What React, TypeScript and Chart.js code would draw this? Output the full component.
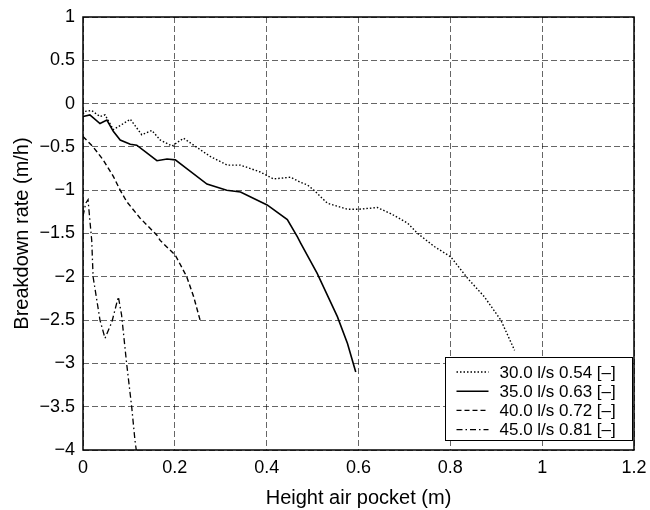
import React, { useEffect, useRef } from "react";
import { Chart, registerables } from "chart.js";

Chart.register(...registerables);

const seriesLabels = [
  "30.0 l/s 0.54 [\u2013]",
  "35.0 l/s 0.63 [\u2013]",
  "40.0 l/s 0.72 [\u2013]",
  "45.0 l/s 0.81 [\u2013]",
];

const s30x = [0, 0.004, 0.019, 0.037, 0.048, 0.066, 0.085, 0.103, 0.128, 0.15, 0.168, 0.194, 0.219, 0.241, 0.277, 0.314, 0.343, 0.386, 0.415, 0.452, 0.474, 0.489, 0.503, 0.532, 0.576, 0.601, 0.641, 0.67, 0.707, 0.729, 0.765, 0.801, 0.838, 0.874, 0.91, 0.94];
const s30y = [-0.12, -0.09, -0.08, -0.15, -0.13, -0.3, -0.24, -0.18, -0.36, -0.31, -0.42, -0.49, -0.4, -0.48, -0.61, -0.71, -0.71, -0.79, -0.87, -0.85, -0.91, -0.94, -1.0, -1.15, -1.22, -1.22, -1.2, -1.27, -1.38, -1.5, -1.65, -1.77, -2.02, -2.23, -2.5, -2.85];

const s35x = [0, 0.015, 0.037, 0.052, 0.066, 0.081, 0.103, 0.117, 0.139, 0.161, 0.183, 0.201, 0.226, 0.27, 0.313, 0.343, 0.401, 0.445, 0.467, 0.474, 0.51, 0.554, 0.576, 0.594];
const s35y = [-0.15, -0.13, -0.23, -0.19, -0.32, -0.42, -0.47, -0.48, -0.57, -0.66, -0.64, -0.65, -0.75, -0.93, -1.0, -1.02, -1.17, -1.34, -1.54, -1.61, -1.96, -2.46, -2.77, -3.1];

const s40x = [0, 0.022, 0.044, 0.066, 0.081, 0.095, 0.124, 0.161, 0.168, 0.201, 0.226, 0.241, 0.255];
const s40y = [-0.38, -0.5, -0.65, -0.84, -1.0, -1.13, -1.32, -1.52, -1.58, -1.75, -2.0, -2.23, -2.5];

const s45x = [0, 0.006, 0.011, 0.015, 0.019, 0.022, 0.037, 0.048, 0.063, 0.077, 0.084, 0.095, 0.106, 0.113, 0.116];
const s45y = [-1.3, -1.15, -1.11, -1.35, -1.58, -2.0, -2.5, -2.71, -2.52, -2.23, -2.44, -3.0, -3.5, -3.88, -4.0];

const xTickValues = [0, 0.2, 0.4, 0.6, 0.8, 1, 1.2];
const yTickValues = [1, 0.5, 0, -0.5, -1, -1.5, -2, -2.5, -3, -3.5, -4];

const dashes = [[1.5, 2], [], [5, 3], [6, 3, 1.5, 3]];
const widths = [1.4, 1.6, 1.4, 1.3];

const FONT = "'Liberation Sans', Arial, sans-serif";

function pts(xs: number[], ys: number[]) {
  return xs.map((x, i) => ({ x, y: ys[i] }));
}

const fmt = (v: number) => String(Number(v.toFixed(2))).replace("-", "\u2212");

export default function App() {
  const ref = useRef<HTMLCanvasElement | null>(null);
  useEffect(() => {
    if (!ref.current) return;
    const allData = [pts(s30x, s30y), pts(s35x, s35y), pts(s40x, s40y), pts(s45x, s45y)];
    const boxPlugin = {
      id: "boxLegend",
      afterDraw(chart: any) {
        const { ctx, chartArea } = chart;
        ctx.save();
        ctx.strokeStyle = "#000";
        ctx.lineWidth = 1.5;
        ctx.setLineDash([]);
        ctx.strokeRect(Math.round(chartArea.left), Math.round(chartArea.top), Math.round(chartArea.right - chartArea.left), Math.round(chartArea.bottom - chartArea.top));
        // legend
        ctx.lineWidth = 1;
        const w = 187, h = 83;
        const lx = Math.round(chartArea.right - 2 - w) + 0.5;
        const ly = Math.round(chartArea.bottom - 10 - h) + 0.5;
        ctx.fillStyle = "#fff";
        ctx.fillRect(lx, ly, w, h);
        ctx.strokeRect(lx, ly, w, h);
        ctx.font = "17px " + FONT;
        ctx.textBaseline = "middle";
        ctx.fillStyle = "#000";
        seriesLabels.forEach((lab, i) => {
          const yy = ly + 14.5 + i * 19.2;
          ctx.beginPath();
          ctx.setLineDash(dashes[i]);
          ctx.lineWidth = widths[i];
          ctx.moveTo(lx + 11, yy);
          ctx.lineTo(lx + 43, yy);
          ctx.stroke();
          ctx.setLineDash([]);
          ctx.fillText(lab, lx + 54, yy + 1);
        });
        ctx.restore();
      },
    };
    const gridOpts = { color: "rgba(0,0,0,0.6)", lineWidth: 1, tickLength: 0, drawTicks: false };
    const chart = new Chart(ref.current, {
      type: "line",
      data: {
        datasets: allData.map((d, i) => ({
          label: seriesLabels[i],
          data: d,
          borderColor: "#000",
          borderWidth: widths[i],
          borderDash: dashes[i],
          pointRadius: 0,
          tension: 0,
          fill: false,
        })),
      },
      options: {
        animation: false,
        responsive: false,
        maintainAspectRatio: false,
        layout: { padding: { left: 0, top: 17, right: 16, bottom: 0 } },
        plugins: { legend: { display: false }, tooltip: { enabled: false } },
        scales: {
          x: {
            type: "linear",
            min: 0,
            max: 1.2,
            afterBuildTicks: (s: any) => { s.ticks = xTickValues.map((v) => ({ value: v })); },
            afterFit: (s: any) => { s.height = 60; s.paddingLeft = 0; s.paddingRight = 0; },
            ticks: {
              callback: (v: any) => fmt(Number(v)),
              color: "#000",
              font: { size: 18, family: FONT },
              padding: 7,
              maxRotation: 0,
            },
            grid: gridOpts,
            border: { display: false, dash: [6, 3] },
            title: { display: true, text: "Height air pocket (m)", color: "#000", font: { size: 20, family: FONT }, padding: { top: 0, bottom: 0 } },
          },
          y: {
            type: "linear",
            min: -4,
            max: 1,
            afterBuildTicks: (s: any) => { s.ticks = yTickValues.map((v) => ({ value: v })); },
            afterFit: (s: any) => { s.width = 83; s.paddingTop = 0; s.paddingBottom = 0; },
            ticks: {
              callback: (v: any) => fmt(Number(v)),
              color: "#000",
              font: { size: 18, family: FONT },
              padding: 8,
            },
            grid: gridOpts,
            border: { display: false, dash: [6, 3] },
            title: { display: true, text: "Breakdown rate (m/h)", color: "#000", font: { size: 20, family: FONT }, padding: { top: 10, bottom: 0 } },
          },
        },
      },
      plugins: [boxPlugin],
    } as any);
    return () => chart.destroy();
  }, []);
  return (
    <div style={{ position: "fixed", left: 0, top: 0, width: 650, height: 510, background: "#fff" }}>
      <canvas ref={ref} width={650} height={510} style={{ width: 650, height: 510 }} />
    </div>
  );
}
